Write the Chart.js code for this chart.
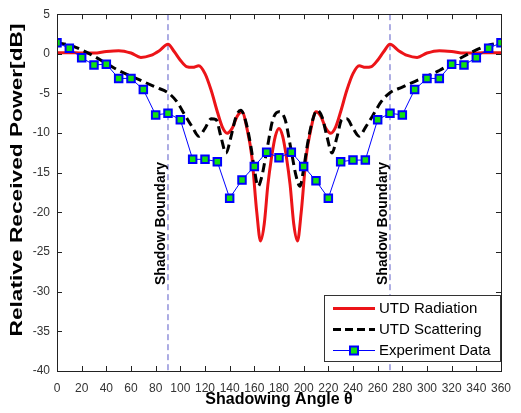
<!DOCTYPE html>
<html>
<head>
<meta charset="utf-8">
<script src="https://cdn.jsdelivr.net/npm/chart.js@4.4.1/dist/chart.umd.min.js"></script>
<style>
body { margin: 0; background: #fff; }
</style>
</head>
<body>
<canvas id="shadowChart" width="521" height="413"></canvas>
<script>
// measured points, experiment every 10 deg
const expAngles = [0, 10, 20, 30, 40, 50, 60, 70, 80, 90, 100, 110, 120, 130, 140, 150, 160, 170, 180,
    190, 200, 210, 220, 230, 240, 250, 260, 270, 280, 290, 300, 310, 320, 330, 340, 350, 360];
const expPower = [1.4, 0.7, -0.5, -1.4, -1.3, -3.1, -3.1, -4.5, -7.7, -7.5, -8.3, -13.3, -13.3, -13.6, -18.2, -15.9, -14.2, -12.4, -13.1,
    -12.4, -14.2, -16.0, -18.2, -13.6, -13.4, -13.4, -8.3, -7.5, -7.7, -4.5, -3.1, -3.1, -1.3, -1.4, -0.5, 0.7, 1.4];

// UTD radiation (red)
const radAngles = [0, 10, 20, 30, 40, 50, 60, 68, 76, 83, 90, 95, 100, 105, 110, 115, 120, 125, 130,
    134, 138, 142, 146, 150, 154, 158, 162, 165, 168, 171, 174, 177, 180,
    183, 186, 189, 192, 195, 198, 202, 206, 210, 214, 218, 222, 226, 230,
    235, 240, 245, 250, 255, 260, 265, 270, 277, 284, 292, 300, 310, 320, 330, 340, 350, 360];
const radPower = [0.15, 0.15, 0.1, 0.1, 0.3, 0.4, 0.1, -0.45, -0.2, 0.4, 1.2, 0.3, -0.8, -1.6, -1.7, -1.5, -2.5, -4.6, -7.3,
    -9.2, -10, -9.4, -7.9, -7.3, -9.4, -13, -20, -23.6, -21.5, -16.5, -13, -10.4, -9.4,
    -10.4, -13, -16.5, -21.5, -23.6, -20, -13, -9.4, -7.3, -7.9, -9.4, -10, -9.2, -7.3,
    -4.6, -2.5, -1.5, -1.7, -1.6, -0.8, 0.3, 1.2, 0.4, -0.2, -0.45, 0.1, 0.4, 0.3, 0.1, 0.1, 0.15, 0.15];

// UTD scattering (black dashed)
const scatAngles = [0, 10, 20, 30, 40, 50, 60, 70, 80, 90, 97, 104, 110, 115, 120, 125, 129, 133, 137, 141,
    145, 149, 153, 157, 160, 163, 166, 170, 175, 180,
    185, 190, 194, 197, 200, 203, 207, 211, 215, 219, 223, 227, 231, 235, 240, 245, 250, 256, 263, 270,
    280, 290, 300, 310, 320, 330, 340, 350, 360];
const scatPower = [1.4, 1.1, 0.5, -0.3, -1.2, -2.1, -2.8, -3.5, -4.2, -4.9, -6.0, -7.8, -9.3, -10.4, -9.4, -8.2, -8.3, -10.5, -12.5, -10.5,
    -8.0, -7.1, -8.5, -11.5, -14.5, -16.7, -15.5, -12.3, -8.3, -7.3,
    -8.3, -12.3, -15.5, -16.7, -14.5, -11.5, -8.5, -7.1, -8.0, -10.5, -12.5, -10.5, -8.3, -8.2, -9.4, -10.4, -9.3, -7.8, -6.0, -4.9,
    -4.2, -3.5, -2.8, -2.1, -1.2, -0.3, 0.5, 1.1, 1.4];

const boundaryAngles = [90, 270];
const boundaryLabel = 'Shadow Boundary';

const xTickValues = [0, 20, 40, 60, 80, 100, 120, 140, 160, 180, 200, 220, 240, 260, 280, 300, 320, 340, 360];
const yTickValues = [5, 0, -5, -10, -15, -20, -25, -30, -35, -40];

const seriesNames = ['UTD Radiation', 'UTD Scattering', 'Experiment Data'];

const FONT = '"Liberation Sans", Arial, sans-serif';
const RED = 'rgb(236, 20, 24)';
const BLUE = '#0000ff';
const GREEN = '#11e011';

function pairs(xs, ys) {
    return xs.map((v, i) => ({ x: v, y: ys[i] }));
}

const boundarySets = boundaryAngles.map(a => ({
    label: 'boundary',
    data: [{ x: a, y: yTickValues[0] }, { x: a, y: yTickValues[yTickValues.length - 1] }],
    borderColor: '#5a5ac8',
    borderWidth: 1,
    borderDash: [6, 4],
    pointRadius: 0,
    order: 4
}));

const matlabFrame = {
    id: 'matlabFrame',
    afterDatasetsDraw(chart) {
        const { ctx, chartArea: a, scales: { x, y } } = chart;
        ctx.save();

        // shadow boundary labels
        ctx.font = 'bold 14px ' + FONT;
        ctx.fillStyle = '#000';
        ctx.textAlign = 'center';
        ctx.textBaseline = 'middle';
        boundaryAngles.forEach(ang => {
            ctx.save();
            ctx.translate(x.getPixelForValue(ang) - 7, y.getPixelForValue(-21.4));
            ctx.rotate(-Math.PI / 2);
            ctx.fillText(boundaryLabel, 0, 0);
            ctx.restore();
        });

        // inward ticks on all four sides
        ctx.strokeStyle = '#222';
        ctx.lineWidth = 1;
        ctx.beginPath();
        x.ticks.forEach(t => {
            const px = Math.round(x.getPixelForValue(t.value)) + 0.5;
            ctx.moveTo(px, a.bottom); ctx.lineTo(px, a.bottom - 5);
            ctx.moveTo(px, a.top); ctx.lineTo(px, a.top + 5);
        });
        y.ticks.forEach(t => {
            const py = Math.round(y.getPixelForValue(t.value)) + 0.5;
            ctx.moveTo(a.left, py); ctx.lineTo(a.left + 5, py);
            ctx.moveTo(a.right, py); ctx.lineTo(a.right - 5, py);
        });
        ctx.stroke();
        ctx.strokeRect(Math.round(a.left) + 0.5, Math.round(a.top) + 0.5,
            Math.round(a.right - a.left), Math.round(a.bottom - a.top));

        // legend box
        const lx = 324, ly = 295, lw = 176, lh = 66;
        ctx.fillStyle = '#fff';
        ctx.fillRect(lx, ly, lw, lh);
        ctx.strokeStyle = '#333';
        ctx.strokeRect(lx + 0.5, ly + 0.5, lw, lh);
        const rows = [308, 329, 350];
        ctx.font = '15px ' + FONT;
        ctx.textAlign = 'left';
        ctx.fillStyle = '#000';
        rows.forEach((ry, i) => {
            ctx.save();
            ctx.beginPath();
            if (i === 0) { ctx.strokeStyle = RED; ctx.lineWidth = 3; }
            if (i === 1) { ctx.strokeStyle = '#000'; ctx.lineWidth = 3; ctx.setLineDash([8, 4]); }
            if (i === 2) { ctx.strokeStyle = BLUE; ctx.lineWidth = 1; }
            ctx.moveTo(333, ry + 0.5); ctx.lineTo(375, ry + 0.5);
            ctx.stroke();
            if (i === 2) {
                ctx.fillStyle = GREEN;
                ctx.fillRect(350, ry - 3.5, 8, 8);
                ctx.lineWidth = 2;
                ctx.strokeRect(350, ry - 3.5, 8, 8);
            }
            ctx.restore();
            ctx.fillText(seriesNames[i], 379, ry + 1);
        });

        // y axis title, stretched like the original figure
        ctx.font = 'bold 16px ' + FONT;
        ctx.textAlign = 'center';
        const w = ctx.measureText('Relative Received Power[dB]').width;
        ctx.translate(17.5, 180);
        ctx.rotate(-Math.PI / 2);
        ctx.scale(313 / w, 1);
        ctx.fillText('Relative Received Power[dB]', 0, 0);
        ctx.restore();
    }
};

const ctx = document.getElementById('shadowChart').getContext('2d');
const shadowChart = new Chart(ctx, {
    type: 'line',
    data: {
        datasets: [
            {
                label: seriesNames[2],
                data: pairs(expAngles, expPower),
                borderColor: BLUE,
                borderWidth: 1,
                pointStyle: 'rect',
                pointRadius: 5.3,
                pointBackgroundColor: GREEN,
                pointBorderColor: BLUE,
                pointBorderWidth: 2,
                order: 0
            },
            {
                label: seriesNames[1],
                data: pairs(scatAngles, scatPower),
                borderColor: '#000',
                borderWidth: 3,
                borderDash: [9, 5],
                pointRadius: 0,
                cubicInterpolationMode: 'monotone',
                order: 1
            },
            {
                label: seriesNames[0],
                data: pairs(radAngles, radPower),
                borderColor: RED,
                borderWidth: 3,
                pointRadius: 0,
                cubicInterpolationMode: 'monotone',
                order: 2
            },
            ...boundarySets
        ]
    },
    options: {
        responsive: false,
        animation: false,
        layout: { padding: { left: 0, right: 9, top: 13, bottom: 0 } },
        plugins: {
            legend: { display: false },
            tooltip: { enabled: false }
        },
        scales: {
            x: {
                type: 'linear',
                min: 0,
                max: 360,
                afterBuildTicks: s => { s.ticks = xTickValues.map(v => ({ value: v })); },
                afterFit: s => { s.height = 42; },
                grid: { display: false, drawTicks: false },
                border: { display: false },
                ticks: {
                    autoSkip: false,
                    maxRotation: 0,
                    padding: 10,
                    color: '#333',
                    font: { family: FONT, size: 12 }
                },
                title: {
                    display: true,
                    text: 'Shadowing Angle θ',
                    color: '#000',
                    font: { family: FONT, size: 16, weight: 'bold' },
                    padding: { top: 0, bottom: 4 }
                }
            },
            y: {
                min: -40,
                max: 5,
                afterBuildTicks: s => { s.ticks = yTickValues.map(v => ({ value: v })); },
                afterFit: s => { s.width = 57; },
                grid: { display: false, drawTicks: false },
                border: { display: false },
                ticks: {
                    padding: 7,
                    color: '#333',
                    font: { family: FONT, size: 12 }
                }
            }
        }
    },
    plugins: [matlabFrame]
});
</script>
</body>
</html>
